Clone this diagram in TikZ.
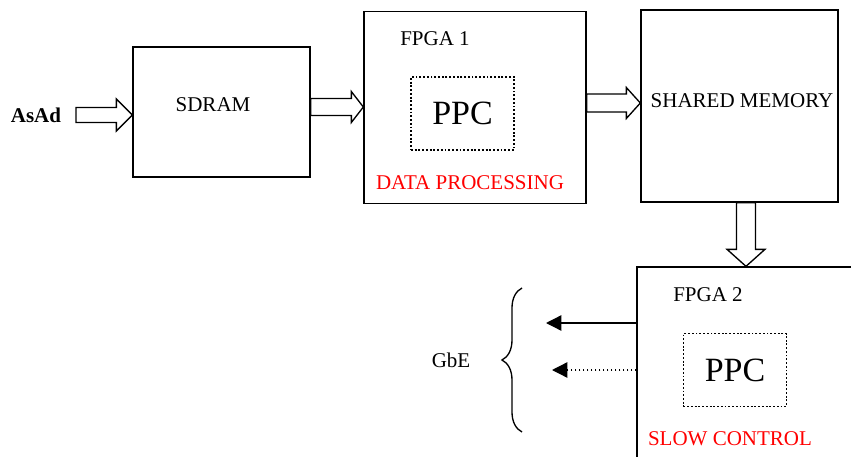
\documentclass[tikz,border=0pt]{standalone}
\usepackage{fontspec}
\setmainfont{Liberation Serif}
\usepackage{tikz}
\usetikzlibrary{positioning,calc,arrows.meta,decorations.pathreplacing}

% horizontal block arrow: start, tip, shaft half width, head half width, head length
\newcommand{\hfat}[5]{%
  \draw[fat] ($(#1)+(0,#3)$) -- ($(#2)+(-#5,#3)$) -- ($(#2)+(-#5,#4)$) -- (#2)
    -- ($(#2)+(-#5,-#4)$) -- ($(#2)+(-#5,-#3)$) -- ($(#1)+(0,-#3)$) -- cycle;}

\begin{document}
\begin{tikzpicture}[x=0.75pt,y=-0.75pt,
    box/.style 2 args={rectangle,draw,line width=1pt,minimum width=#1*0.75pt,minimum height=#2*0.75pt,inner sep=0pt},
    ppcbox/.style={rectangle,draw,dash pattern=on 1.4pt off 1.4pt,line width=1.4pt,minimum width=103*0.75pt,minimum height=73*0.75pt,inner sep=0pt,font=\fontsize{25.5}{28}\selectfont},
    lbl/.style={inner sep=0pt,font=\fontsize{15.75}{18}\selectfont},
    redlbl/.style={lbl,text=red},
    fat/.style={line width=1pt,fill=white},
    link/.style={line width=1pt,-{Triangle[length=11.5pt,width=11.5pt]}}]
    \path[use as bounding box,clip] (0,0) rectangle (851,457);

    % boxes
    \node[box={177}{130}] (sdram) at (221.5,112) {};
    \node[box={222}{192}] (fpga1) at (475,107.5) {};
    \node[box={197}{192}] (shared) at (739.5,106) {};
    \node[box={243}{213}] (fpga2) at (758.5,373.5) {};
    \node[ppcbox] (ppc1) at (462.5,113.5) {PPC};
    \node[ppcbox] (ppc2) at (735,370) {PPC};

    % labels
    \node[lbl,font=\fontsize{15.75}{18}\selectfont\bfseries] (asad) at (36,115) {AsAd};
    \node[lbl] (sdramlbl) at (213,105) {SDRAM};
    \node[lbl] (fpga1lbl) at (435,39) {FPGA 1};
    \node[redlbl] (dproc) at (470,183) {DATA PROCESSING};
    \node[lbl] (sharedlbl) at (742,101) {SHARED MEMORY};
    \node[lbl] (fpga2lbl) at (708,295) {FPGA 2};
    \node[redlbl] (slowctl) at (730,439) {SLOW CONTROL};
    \node[lbl] (gbe) at (451,360) {GbE};

    % block arrows
    \coordinate (asadout) at (76,115);
    \hfat{asadout}{sdram.west |- asadout}{7.5}{16}{16}
    \coordinate (sdramout) at (sdram.east |- 0,107);
    \hfat{sdramout}{fpga1.west |- sdramout}{8.5}{15.5}{12}
    \coordinate (fpgaout) at (fpga1.east |- 0,103);
    \hfat{fpgaout}{shared.west |- fpgaout}{9}{15.5}{14}
    \coordinate (memout) at (746,0 |- shared.south);
    \coordinate (memin) at (memout |- fpga2.north);
    \draw[fat] ($(memout)+(-9.5,0)$) -- ($(memin)+(-9.5,-17)$) -- ($(memin)+(-19,-17)$) -- (memin)
        -- ($(memin)+(19,-17)$) -- ($(memin)+(9.5,-17)$) -- ($(memout)+(9.5,0)$) -- cycle;

    % GbE links
    \coordinate (gbe1) at (546,323);
    \coordinate (gbe2) at (552,370);
    \draw[link] (fpga2.west |- gbe1) -- (gbe1);
    \draw[link,dotted] (fpga2.west |- gbe2) -- (gbe2);
    \coordinate (bracebot) at (522,432);
    \coordinate (bracetop) at (522,288);
    \draw[line width=1pt,decorate,decoration={brace,amplitude=15pt}] (bracebot) -- (bracetop);

\end{tikzpicture}
\end{document}
